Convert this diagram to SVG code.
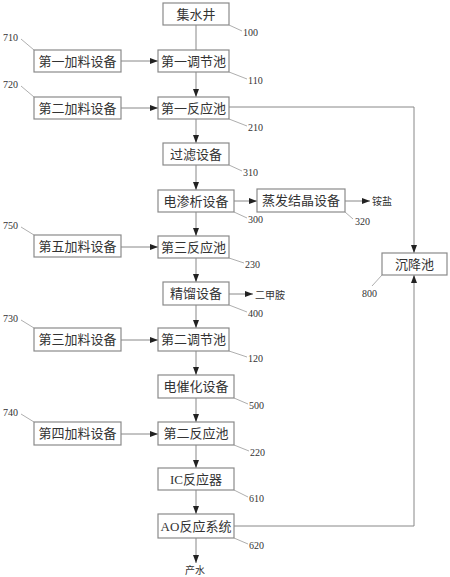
<svg xmlns="http://www.w3.org/2000/svg" width="450" height="577" viewBox="0 0 450 577">
<defs>
<marker id="ah" viewBox="0 0 8 6" refX="8" refY="3" markerWidth="8" markerHeight="6" markerUnits="userSpaceOnUse" orient="auto">
<path d="M0,0 L8,3 L0,6 Z" fill="#222"/>
</marker>
<style>
.box{fill:#fff;stroke:#8a8a8a;stroke-width:1.2}
.t{font-family:"Liberation Serif","Noto Sans CJK SC",serif;font-size:13px;fill:#333;text-anchor:middle;dominant-baseline:central}
.n{font-family:"Liberation Serif","Noto Sans CJK SC",serif;font-size:10px;fill:#333;dominant-baseline:central}
.s{font-family:"Liberation Serif","Noto Sans CJK SC",serif;font-size:10px;fill:#333;dominant-baseline:central}
.ln{fill:none;stroke:#888;stroke-width:1}
.ar{fill:none;stroke:#888;stroke-width:1;marker-end:url(#ah)}
.ld{fill:none;stroke:#999;stroke-width:0.8}
</style>
</defs>
<rect width="450" height="577" fill="#fff"/>
<g id="connectors">
<path class="ln" d="M196,25 V50"/>
<path class="ar" d="M196,72 V97"/>
<path class="ar" d="M196,119 V143"/>
<path class="ar" d="M196,165 V190"/>
<path class="ar" d="M196,212 V236"/>
<path class="ar" d="M196,258 V282"/>
<path class="ar" d="M196,305 V328"/>
<path class="ar" d="M196,351 V375"/>
<path class="ar" d="M196,398 V422"/>
<path class="ar" d="M196,445 V468"/>
<path class="ar" d="M196,490 V514"/>
<path class="ar" d="M196,538 V563"/>
<path class="ar" d="M121,61 H158"/>
<path class="ar" d="M121,108 H158"/>
<path class="ar" d="M121,247 H158"/>
<path class="ar" d="M121,340 H158"/>
<path class="ar" d="M121,434 H158"/>
<path class="ar" d="M234,201 H257"/>
<path class="ar" d="M345,201 H370"/>
<path class="ar" d="M229,294 H253"/>
<path class="ar" d="M229,107 H414 V253"/>
<path class="ar" d="M234,526 H414 V275"/>
</g>
<g id="n100"><rect class="box" x="163" y="3" width="66" height="22"/><text class="t" x="196" y="14">集水井</text><path class="ld" d="M229,25 L242,31"/><text class="n" x="243" y="32">100</text></g>
<g id="n110"><rect class="box" x="158" y="50" width="71" height="22"/><text class="t" x="193.5" y="61">第一调节池</text><path class="ld" d="M229,72 L247,79"/><text class="n" x="248" y="80">110</text></g>
<g id="n210"><rect class="box" x="158" y="97" width="71" height="22"/><text class="t" x="193.5" y="108">第一反应池</text><path class="ld" d="M229,119 L247,126"/><text class="n" x="248" y="127">210</text></g>
<g id="n310"><rect class="box" x="163" y="143" width="66" height="22"/><text class="t" x="196" y="154">过滤设备</text><path class="ld" d="M229,165 L242,171"/><text class="n" x="243" y="172">310</text></g>
<g id="n300"><rect class="box" x="158" y="190" width="76" height="22"/><text class="t" x="196" y="201">电渗析设备</text><path class="ld" d="M234,212 L247,218"/><text class="n" x="248" y="219">300</text></g>
<g id="n320"><rect class="box" x="257" y="189" width="88" height="23"/><text class="t" x="301" y="200.5">蒸发结晶设备</text><path class="ld" d="M345,212 L353,219"/><text class="n" x="355" y="221">320</text></g>
<g id="l-ammonium"><text class="s" x="372" y="201">铵盐</text></g>
<g id="n230"><rect class="box" x="158" y="236" width="71" height="22"/><text class="t" x="193.5" y="247">第三反应池</text><path class="ld" d="M229,258 L244,263"/><text class="n" x="245" y="264">230</text></g>
<g id="n400"><rect class="box" x="163" y="282" width="66" height="23"/><text class="t" x="196" y="293.5">精馏设备</text><path class="ld" d="M229,305 L247,312"/><text class="n" x="248" y="313">400</text></g>
<g id="l-dma"><text class="s" x="255" y="295">二甲胺</text></g>
<g id="n120"><rect class="box" x="158" y="328" width="71" height="23"/><text class="t" x="193.5" y="339.5">第二调节池</text><path class="ld" d="M229,351 L247,357"/><text class="n" x="248" y="358">120</text></g>
<g id="n500"><rect class="box" x="158" y="375" width="76" height="23"/><text class="t" x="196" y="386.5">电催化设备</text><path class="ld" d="M234,398 L248,404"/><text class="n" x="249" y="405">500</text></g>
<g id="n220"><rect class="box" x="158" y="422" width="76" height="23"/><text class="t" x="196" y="433.5">第二反应池</text><path class="ld" d="M234,445 L249,451"/><text class="n" x="250" y="452">220</text></g>
<g id="n610"><rect class="box" x="158" y="468" width="76" height="22"/><text class="t" x="196" y="479">IC反应器</text><path class="ld" d="M234,490 L248,497"/><text class="n" x="249" y="498">610</text></g>
<g id="n620"><rect class="box" x="158" y="514" width="76" height="24"/><text class="t" x="196" y="526">AO反应系统</text><path class="ld" d="M234,538 L248,544"/><text class="n" x="249" y="545">620</text></g>
<g id="l-water"><text class="s" x="195" y="570" text-anchor="middle">产水</text></g>
<g id="n800"><rect class="box" x="382" y="253" width="65" height="22"/><text class="t" x="414.5" y="264">沉降池</text><path class="ld" d="M382,275 L372,286"/><text class="n" x="362" y="293">800</text></g>
<g id="n710"><rect class="box" x="34" y="50" width="87" height="22"/><text class="t" x="77.5" y="61">第一加料设备</text><path class="ld" d="M34,50 L21,39"/><text class="n" x="3" y="37">710</text></g>
<g id="n720"><rect class="box" x="34" y="97" width="87" height="22"/><text class="t" x="77.5" y="108">第二加料设备</text><path class="ld" d="M34,97 L21,86"/><text class="n" x="3" y="84">720</text></g>
<g id="n750"><rect class="box" x="34" y="235" width="87" height="22"/><text class="t" x="77.5" y="246">第五加料设备</text><path class="ld" d="M34,235 L21,227"/><text class="n" x="3" y="225">750</text></g>
<g id="n730"><rect class="box" x="34" y="328" width="87" height="23"/><text class="t" x="77.5" y="339.5">第三加料设备</text><path class="ld" d="M34,328 L21,320"/><text class="n" x="3" y="318">730</text></g>
<g id="n740"><rect class="box" x="34" y="422" width="87" height="23"/><text class="t" x="77.5" y="433.5">第四加料设备</text><path class="ld" d="M34,422 L21,414"/><text class="n" x="3" y="412">740</text></g>
</svg>
